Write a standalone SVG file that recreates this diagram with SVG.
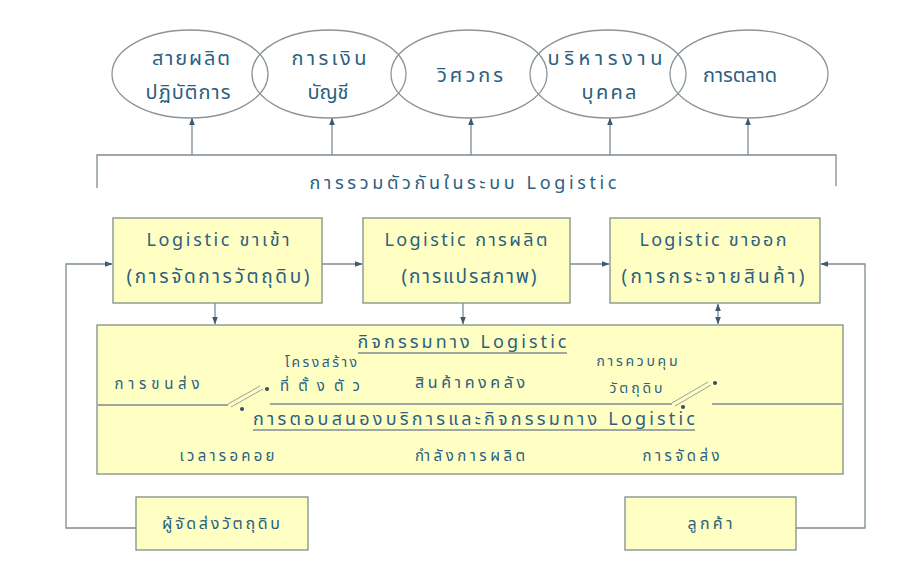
<svg xmlns="http://www.w3.org/2000/svg" width="904" height="581" viewBox="0 0 904 581">
<defs>
<style>
.t{font-family:"Noto Sans Thai","Liberation Sans","DejaVu Sans",sans-serif;fill:#2b6080;text-anchor:middle;}
.el{fill:none;stroke:#8a9499;stroke-width:1.3;}
.bx{fill:#ffffc4;stroke:#7f9088;stroke-width:1.3;}
.ln{fill:none;stroke:#7d8b92;stroke-width:1.3;}
.sw{fill:none;stroke:#9aa0a0;stroke-width:1;}
.dot{fill:#334f66;}
</style>
<marker id="ah" viewBox="0 0 8 8" refX="7.5" refY="4" markerWidth="6" markerHeight="6" orient="auto-start-reverse">
<path d="M0,1 L8,4 L0,7 z" fill="#3d5a70"/>
</marker>
</defs>
<rect width="904" height="581" fill="#ffffff"/>

<g id="connectors">
<path class="ln" d="M192,155 V118" marker-end="url(#ah)"/>
<path class="ln" d="M332,155 V118" marker-end="url(#ah)"/>
<path class="ln" d="M471,155 V118" marker-end="url(#ah)"/>
<path class="ln" d="M610,155 V118" marker-end="url(#ah)"/>
<path class="ln" d="M748,155 V118" marker-end="url(#ah)"/>
<path class="ln" d="M97,188 V155 H836 V186"/>
<path class="ln" d="M322,264 H362" marker-end="url(#ah)"/>
<path class="ln" d="M570,264 H609" marker-end="url(#ah)"/>
<path class="ln" d="M136,528 H66 V264 H112" marker-end="url(#ah)"/>
<path class="ln" d="M796,528 H865 V264 H821" marker-end="url(#ah)"/>
<path class="ln" d="M215,303 V324" marker-end="url(#ah)"/>
<path class="ln" d="M463,303 V324" marker-end="url(#ah)"/>
<path class="ln" d="M718,304 V324" marker-start="url(#ah)" marker-end="url(#ah)"/>
</g>

<g id="n-prod"><ellipse class="el" cx="190" cy="74" rx="78" ry="44"/><text class="t" x="191" y="65" font-size="20" textLength="78" lengthAdjust="spacing">สายผลิต</text><text class="t" x="188" y="99" font-size="20" textLength="85" lengthAdjust="spacing">ปฏิบัติการ</text></g>
<g id="n-fin"><ellipse class="el" cx="329" cy="74" rx="77" ry="44"/><text class="t" x="329" y="65" font-size="20" textLength="75" lengthAdjust="spacing">การเงิน</text><text class="t" x="328" y="99" font-size="20" textLength="41" lengthAdjust="spacing">บัญชี</text></g>
<g id="n-eng"><ellipse class="el" cx="469" cy="74" rx="78" ry="44"/><text class="t" x="470" y="82" font-size="20" textLength="66" lengthAdjust="spacing">วิศวกร</text></g>
<g id="n-hr"><ellipse class="el" cx="608" cy="74" rx="78" ry="44"/><text class="t" x="605" y="65" font-size="20" textLength="115" lengthAdjust="spacing">บริหารงาน</text><text class="t" x="609" y="99" font-size="20" textLength="55" lengthAdjust="spacing">บุคคล</text></g>
<g id="n-mkt"><ellipse class="el" cx="749" cy="74" rx="79" ry="44"/><text class="t" x="740" y="82" font-size="20" textLength="74" lengthAdjust="spacing">การตลาด</text></g>

<g id="n-integ"><text class="t" x="463" y="189" font-size="18" textLength="307" lengthAdjust="spacing">การรวมตัวกันในระบบ Logistic</text></g>

<g id="n-in"><rect class="bx" x="113" y="218" width="209" height="85"/><text class="t" x="218" y="246" font-size="18" textLength="143" lengthAdjust="spacing">Logistic ขาเข้า</text><text class="t" x="218" y="283" font-size="19" textLength="183" lengthAdjust="spacing">(การจัดการวัตถุดิบ)</text></g>
<g id="n-mid"><rect class="bx" x="363" y="218" width="207" height="85"/><text class="t" x="466" y="246" font-size="18" textLength="163" lengthAdjust="spacing">Logistic การผลิต</text><text class="t" x="469" y="283" font-size="19" textLength="135" lengthAdjust="spacing">(การแปรสภาพ)</text></g>
<g id="n-out"><rect class="bx" x="610" y="218" width="210" height="85"/><text class="t" x="713" y="246" font-size="18" textLength="147" lengthAdjust="spacing">Logistic ขาออก</text><text class="t" x="713" y="283" font-size="19" textLength="183" lengthAdjust="spacing">(การกระจายสินค้า)</text></g>

<g id="n-act">
<rect class="bx" x="97" y="325" width="746" height="149"/>
<path class="ln" d="M98,405 H228 M270,404 H672 M712,404 H842"/>
<path class="sw" d="M228,404 L260,386 M231,407 L263,389"/>
<circle class="dot" cx="267" cy="389" r="2"/><circle class="dot" cx="242" cy="409" r="2"/>
<path class="sw" d="M672,403 L708,382 M675,406 L711,385"/>
<circle class="dot" cx="715" cy="383" r="2"/><circle class="dot" cx="683" cy="407" r="2"/>
<text class="t" x="462" y="348" font-size="18" textLength="209" lengthAdjust="spacing">กิจกรรมทาง Logistic</text>
<path class="ln" d="M358,353 H567"/>
<text class="t" x="157" y="389" font-size="15" textLength="85" lengthAdjust="spacing">การขนส่ง</text>
<text class="t" x="321" y="367" font-size="14" textLength="72" lengthAdjust="spacing">โครงสร้าง</text>
<text class="t" x="320" y="391" font-size="15" textLength="80" lengthAdjust="spacing">ที่ตั้งตัว</text>
<text class="t" x="470" y="388" font-size="16" textLength="110" lengthAdjust="spacing">สินค้าคงคลัง</text>
<text class="t" x="637" y="366" font-size="14" textLength="81" lengthAdjust="spacing">การควบคุม</text>
<text class="t" x="636" y="393" font-size="14" textLength="53" lengthAdjust="spacing">วัตถุดิบ</text>
<text class="t" x="474" y="425" font-size="18" textLength="442" lengthAdjust="spacing">การตอบสนองบริการและกิจกรรมทาง Logistic</text>
<path class="ln" d="M253,430 H695"/>
<text class="t" x="227" y="461" font-size="15" textLength="95" lengthAdjust="spacing">เวลารอคอย</text>
<text class="t" x="470" y="461" font-size="15" textLength="110" lengthAdjust="spacing">กำลังการผลิต</text>
<text class="t" x="681" y="461" font-size="15" textLength="77" lengthAdjust="spacing">การจัดส่ง</text>
</g>

<g id="n-sup"><rect class="bx" x="136" y="497" width="172" height="53"/><text class="t" x="221" y="529" font-size="16" textLength="118" lengthAdjust="spacing">ผู้จัดส่งวัตถุดิบ</text></g>
<g id="n-cust"><rect class="bx" x="625" y="497" width="171" height="53"/><text class="t" x="710" y="529" font-size="16" textLength="45" lengthAdjust="spacing">ลูกค้า</text></g>
</svg>
